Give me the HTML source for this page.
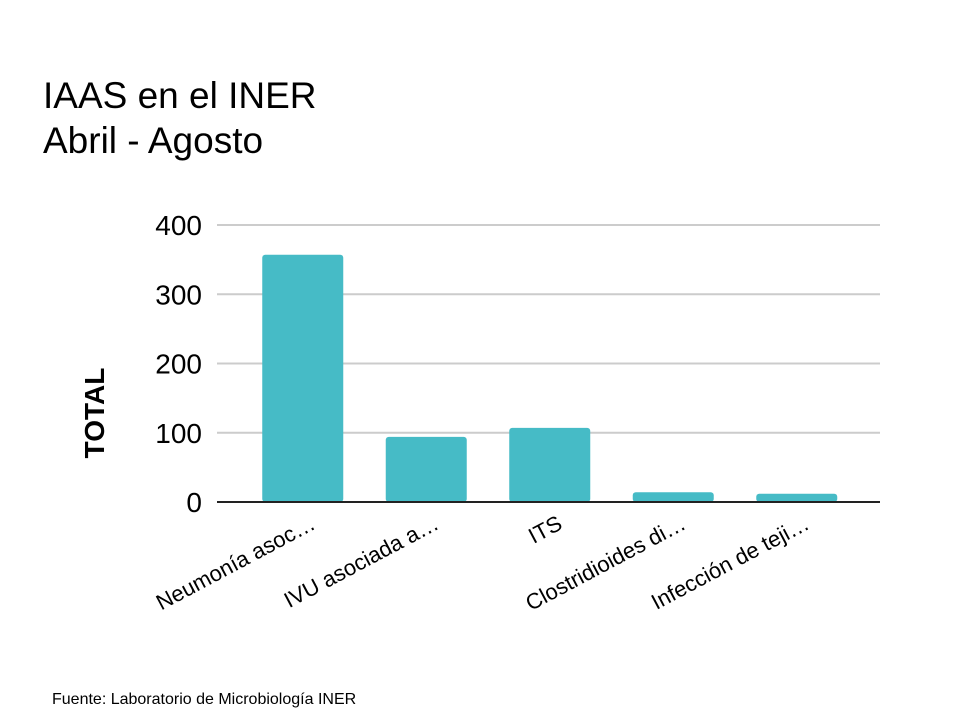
<!DOCTYPE html>
<html><head><meta charset="utf-8"><style>
body{margin:0;background:#fff;}
svg{display:block;font-family:"Liberation Sans",Arial,sans-serif;}
</style></head><body>
<svg width="960" height="720" viewBox="0 0 960 720">
<text x="43" y="108" font-size="37" fill="#000">IAAS en el INER</text>
<text x="43" y="153" font-size="37" fill="#000">Abril - Agosto</text>
<g id="grid"></g>
<g id="bars"></g>
<g id="xlabels"></g>
<line x1="217" x2="880" y1="502" y2="502" stroke="#222" stroke-width="2"/>
<text transform="translate(104,413) rotate(-90)" text-anchor="middle" font-size="28" font-weight="bold" fill="#000">TOTAL</text>
<text x="52" y="704" font-size="16" fill="#000">Fuente: Laboratorio de Microbiología INER</text>
</svg>
<script>
const categories=["Neumonía asoc…","IVU asociada a…","ITS","Clostridioides di…","Infección de teji…"];
const values=[357,94,107,14,12];
const ticks=[0,100,200,300,400];
const NS="http://www.w3.org/2000/svg";
const y0=502,ymax=225,vmax=400;
function y(v){return y0-(v/vmax)*(y0-ymax);}
const left=217,right=880;
const bandStart=241,band=123.5;
function xc(i){return bandStart+band*(i+0.5);}
const grid=document.getElementById('grid');
ticks.forEach(t=>{
  if(t>0){const l=document.createElementNS(NS,'line');
  l.setAttribute('x1',left);l.setAttribute('x2',right);l.setAttribute('y1',y(t));l.setAttribute('y2',y(t));
  l.setAttribute('stroke','#ccc');l.setAttribute('stroke-width','2');
  
  
  grid.appendChild(l);}
  const tx=document.createElementNS(NS,'text');
  tx.setAttribute('x',202);tx.setAttribute('y',y(t)+10);tx.setAttribute('text-anchor','end');
  tx.setAttribute('font-size','28');tx.setAttribute('font-weight','500');tx.textContent=t;
  
  
  grid.appendChild(tx);
});
const bars=document.getElementById('bars'),xl=document.getElementById('xlabels');
const bw=81;
values.forEach((v,i)=>{
  const r=document.createElementNS(NS,'rect');
  r.setAttribute('x',xc(i)-bw/2);r.setAttribute('y',y(v));r.setAttribute('width',bw);r.setAttribute('height',y0-y(v));
  r.setAttribute('fill','#46bbc6');r.setAttribute('rx','3');
  
  
  bars.appendChild(r);
  const t=document.createElementNS(NS,'text');
  const lx=xc(i)+14,ly=528;
  t.setAttribute('x',lx);t.setAttribute('y',ly);t.setAttribute('text-anchor','end');
  t.setAttribute('transform','rotate(-28 '+lx+' '+ly+')');
  t.setAttribute('font-size','22');t.textContent=categories[i];
  
  
  xl.appendChild(t);
});
</script>
</body></html>
